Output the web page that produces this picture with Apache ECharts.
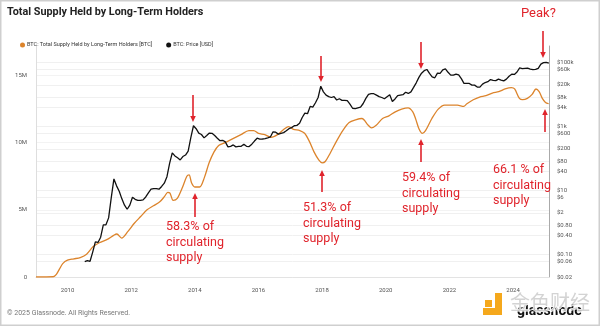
<!DOCTYPE html>
<html>
<head>
<meta charset="utf-8">
<script src="https://cdn.jsdelivr.net/npm/echarts@6/dist/echarts.min.js"></script>
<style>html,body{margin:0;padding:0;background:#fff}#c{width:600px;height:326px}</style>
</head>
<body>
<div id="c"></div>
<script>
// ---- data ----
// BTC price, monthly (mid-month), USD
const priceStart = [2010, 7];
const price2010 = [0.06, 0.065, 0.062, 0.12, 0.25, 0.24];
const price2011 = [0.35, 0.85, 0.85, 1.4, 6, 23, 14, 9.5, 5.5, 3.5, 2.6, 3.5];
const price2012 = [6.2, 5.3, 4.9, 4.9, 5.1, 6.3, 8.5, 11, 11.5, 11.5, 11, 13.4];
const price2013 = [17, 27, 70, 150, 120, 105, 90, 115, 128, 170, 450, 1050];
const price2014 = [850, 620, 560, 440, 520, 620, 610, 520, 430, 360, 370, 330];
const price2015 = [230, 240, 265, 230, 237, 240, 280, 240, 235, 280, 350, 430];
const price2016 = [400, 405, 415, 440, 470, 680, 660, 575, 610, 640, 730, 850];
const price2017 = [920, 1050, 1080, 1250, 1900, 2600, 2500, 4200, 4000, 5500, 8000, 18000];
const price2018 = [12000, 9500, 8500, 8000, 8500, 6700, 7300, 6500, 6500, 6400, 5000, 3700];
const price2019 = [3600, 3800, 4000, 5200, 7500, 10000, 10500, 10500, 9500, 8500, 8000, 7300];
const price2020 = [8500, 9800, 6000, 7200, 9200, 9500, 9800, 11700, 10700, 12000, 16500, 23000];
const price2021 = [34000, 46000, 55000, 60000, 45000, 35000, 33000, 46000, 45000, 58000, 63000, 49000];
const price2022 = [40000, 40000, 43000, 41000, 31000, 22000, 22000, 22000, 19500, 19500, 17000, 16900];
const price2023 = [21000, 23500, 25000, 29000, 27500, 27000, 30000, 28000, 26500, 30000, 37000, 42500];
const price2024 = [42000, 50000, 67000, 64000, 65000, 66000, 62000, 59000, 60000, 65000, 88000, 98000];
const price2025 = [100000, 94000];

// Long-term holder supply (million BTC) at decimal-year dates
const lthYears = [2009.01, 2009.55, 2009.65, 2009.75, 2009.85, 2010.0, 2010.2, 2010.4, 2010.6, 2010.8,
  2011.0, 2011.25, 2011.45, 2011.55, 2011.7, 2011.9, 2012.1, 2012.3, 2012.5, 2012.7, 2012.9,
  2013.05, 2013.15, 2013.22, 2013.32, 2013.45, 2013.6, 2013.75, 2013.82, 2013.9, 2014.0, 2014.15,
  2014.3, 2014.45, 2014.6, 2014.75, 2014.95, 2015.2, 2015.45, 2015.7, 2015.85, 2016.0, 2016.2,
  2016.4, 2016.6, 2016.8, 2016.95, 2017.1, 2017.3, 2017.45, 2017.6, 2017.75, 2017.9, 2018.0,
  2018.1, 2018.25, 2018.45, 2018.65, 2018.85, 2019.05, 2019.25, 2019.45, 2019.55, 2019.7, 2019.9,
  2020.1, 2020.3, 2020.5, 2020.7, 2020.85, 2020.95, 2021.05, 2021.15, 2021.25, 2021.45, 2021.65,
  2021.85, 2022.05, 2022.25, 2022.45, 2022.55, 2022.75, 2022.95, 2023.15, 2023.35, 2023.55,
  2023.75, 2023.95, 2024.05, 2024.2, 2024.3, 2024.45, 2024.6, 2024.72, 2024.82, 2024.92, 2025.02, 2025.12];
const lthSupplyM = [0, 0.02, 0.2, 0.6, 1.0, 1.25, 1.35, 1.45, 1.7, 2.25,
  2.55, 2.8, 3.1, 3.2, 2.9, 3.4, 4.0, 4.5, 5.0, 5.3, 5.6,
  6.0, 6.3, 6.25, 5.7, 5.85, 6.6, 7.5, 7.6, 7.0, 6.7, 6.7,
  7.4, 8.5, 9.3, 9.8, 10.0, 10.3, 10.6, 10.9, 10.9, 10.7, 10.6,
  10.4, 10.6, 11.0, 11.2, 11.0, 10.9, 10.7, 10.1, 9.3, 8.7, 8.5,
  8.6, 9.2, 10.1, 10.9, 11.5, 11.7, 11.8, 11.3, 11.1, 11.3, 11.8,
  12.0, 12.3, 12.5, 12.6, 12.3, 11.7, 11.0, 10.7, 10.9, 11.8, 12.5,
  12.8, 12.8, 12.8, 12.7, 12.9, 13.2, 13.4, 13.5, 13.7, 13.8,
  14.0, 14.1, 14.0, 13.3, 13.2, 13.3, 13.6, 14.0, 13.8, 13.3, 13.0, 12.9];

// axis ticks / labels
const yearTicks = [2010, 2012, 2014, 2016, 2018, 2020, 2022, 2024];
const priceTicks = [0.02, 0.06, 0.1, 0.4, 0.8, 2, 6, 10, 40, 80, 200, 600, 1000, 4000, 8000, 20000, 60000, 100000];
const supplyTicks = [0, 5, 10, 15];

// ---- build series ----
const priceYears = [price2010, price2011, price2012, price2013, price2014, price2015, price2016, price2017,
  price2018, price2019, price2020, price2021, price2022, price2023, price2024, price2025];
const priceData = [];
priceYears.forEach((arr, i) => {
  const yr = priceStart[0] + i;
  const m0 = i === 0 ? priceStart[1] : 1;
  arr.forEach((v, j) => priceData.push([yr + (m0 + j - 0.5) / 12, v]));
});
const lthData = lthYears.map((y, i) => [y, lthSupplyM[i] * 1e6]);

const RED = '#e0242c';
const FONT = 'Roboto, "Noto Sans", sans-serif';

function fmtPrice(v) {
  const r = Number(v.toPrecision(3));
  if (r >= 1000) return '$' + (r / 1000) + 'k';
  if (r < 1) return '$' + r.toFixed(2);
  return '$' + r;
}

const arrows = [
  [193, 95, 122], [195, 217, 193], [321, 56, 82], [322, 192, 170],
  [421, 42, 69], [421, 162, 139], [543, 31, 58], [545, 132, 109]
];
const notes = [
  [166, 227, '58.3% of\ncirculating\nsupply'],
  [303, 208, '51.3% of\ncirculating\nsupply'],
  [402, 178, '59.4% of\ncirculating\nsupply'],
  [493, 170, '66.1 % of\ncirculating\nsupply']
];
const graphics = [];
graphics.push({type: 'rect', shape: {x: 0.75, y: 0.75, width: 598.5, height: 324.5}, style: {fill: 'none', stroke: '#cfcfcf', lineWidth: 1.5}, silent: true});
arrows.forEach(([x, y0, y1]) => {
  const dir = y1 > y0 ? 1 : -1;
  graphics.push({type: 'line', shape: {x1: x, y1: y0, x2: x, y2: y1 - dir * 5}, style: {stroke: RED, lineWidth: 1.6}, z: 10});
  graphics.push({type: 'polygon', shape: {points: [[x - 2.8, y1 - dir * 6], [x + 2.8, y1 - dir * 6], [x, y1]]}, style: {fill: RED}, z: 10});
});
notes.forEach(([x, y, t]) => {
  graphics.push({type: 'text', x: x, y: y - 7.75, z: 10, style: {text: t, fill: RED, font: '12.5px ' + FONT, lineHeight: 15.5, verticalAlign: 'top'}});
});
graphics.push({type: 'text', x: 521, y: 7, z: 10, style: {text: 'Peak?', fill: RED, font: '13px ' + FONT, verticalAlign: 'top'}});
graphics.push({type: 'text', x: 7, y: 7, style: {text: 'Total Supply Held by Long-Term Holders', fill: '#222', font: 'bold 10.8px ' + FONT, verticalAlign: 'top'}});
graphics.push({type: 'text', x: 7, y: 310, style: {text: '\u00a9 2025 Glassnode. All Rights Reserved.', fill: '#777', font: '7px ' + FONT, verticalAlign: 'top'}});
// glassnode logo
graphics.push({type: 'rect', shape: {x: 483, y: 308, width: 19, height: 7}, style: {fill: '#f5a81c'}});
graphics.push({type: 'rect', shape: {x: 495, y: 293, width: 7, height: 22}, style: {fill: '#f5a81c'}});
graphics.push({type: 'rect', shape: {x: 485, y: 300, width: 7, height: 7}, style: {fill: '#f5a81c'}});
graphics.push({type: 'text', x: 517, y: 304, style: {text: 'glassnode', fill: '#111', font: 'bold 14px ' + FONT, verticalAlign: 'top'}});
graphics.push({type: 'text', x: 510, y: 292, style: {text: '金色财经', fill: 'rgba(200,200,200,0.8)', stroke: '#fff', lineWidth: 1, font: '20px "Noto Sans CJK SC"', verticalAlign: 'top'}});

const chart = echarts.init(document.getElementById('c'));
chart.setOption({
  animation: false,
  backgroundColor: '#fff',
  textStyle: {fontFamily: FONT},
  legend: {
    left: 15, top: 37, itemWidth: 5, itemHeight: 5, itemGap: 14, icon: 'circle',
    textStyle: {fontSize: 5.5, color: '#333', padding: [0, 0, 0, -3]},
    data: ['BTC: Total Supply Held by Long-Term Holders [BTC]', 'BTC: Price [USD]']
  },
  grid: {left: 36, right: 51, top: 46, bottom: 49},
  xAxis: {
    type: 'value', min: 2009.01, max: 2025.13,
    axisLine: {show: true, lineStyle: {color: '#e3e3e3'}},
    axisTick: {show: false},
    splitLine: {show: false},
    axisLabel: {customValues: yearTicks, fontSize: 6, color: '#555', margin: 10, formatter: v => String(Math.round(v))}
  },
  yAxis: [
    {
      type: 'value', min: 0, max: 17.2e6, position: 'left',
      axisLine: {show: true, lineStyle: {color: '#dedede'}},
      axisTick: {show: false, customValues: supplyTicks.map(v => v * 1e6)},
      splitLine: {show: true, lineStyle: {color: '#f0f0f0', width: 0.8}},
      axisLabel: {customValues: supplyTicks.map(v => v * 1e6), fontSize: 6, color: '#555', margin: 9,
        formatter: v => v === 0 ? '0' : Math.round(v / 1e6) + 'M'}
    },
    {
      type: 'log', logBase: 10, min: 0.02, max: 324000, position: 'right',
      axisLine: {show: true, lineStyle: {color: '#aaa'}},
      axisTick: {show: false, customValues: priceTicks},
      splitLine: {show: true, lineStyle: {color: '#ececec', width: 0.8}},
      axisLabel: {customValues: priceTicks, fontSize: 6, color: '#555', margin: 8, formatter: fmtPrice}
    }
  ],
  series: [
    {
      name: 'BTC: Total Supply Held by Long-Term Holders [BTC]', type: 'line', yAxisIndex: 0,
      data: lthData, showSymbol: false, smooth: 0.3,
      lineStyle: {color: '#dc842c', width: 1.3}, itemStyle: {color: '#dc842c'}
    },
    {
      name: 'BTC: Price [USD]', type: 'line', yAxisIndex: 1,
      data: priceData, showSymbol: false,
      lineStyle: {color: '#111', width: 1.3}, itemStyle: {color: '#111'}
    }
  ],
  graphic: graphics
});
</script>
</body>
</html>
